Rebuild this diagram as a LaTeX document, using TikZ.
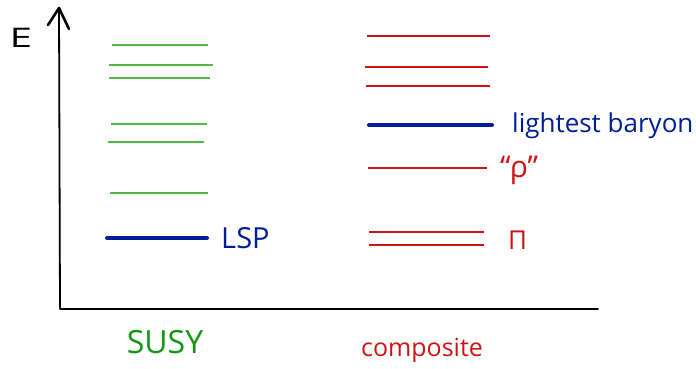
\documentclass[tikz,border=0pt]{standalone}
\usepackage{graphicx}
\usepackage{fontspec}
\setmainfont{Open Sans}
\definecolor{lvlgreen}{RGB}{80,185,70}
\definecolor{txtgreen}{RGB}{20,150,20}
\definecolor{lvlred}{RGB}{205,20,20}
\definecolor{lvlblue}{RGB}{0,30,150}
\newcommand{\fs}[1]{\fontsize{#1}{#1}\selectfont}
\begin{document}
\begin{tikzpicture}[x=1pt,y=-1pt,
  axis/.style={black,line width=1.8pt,line cap=round,line join=round},
  barb/.style={black,line width=2.6pt,line cap=round,line join=round},
  susylvl/.style={lvlgreen,line width=2pt},
  complvl/.style={lvlred,line width=2pt},
  lightest/.style={lvlblue,line width=4pt,line cap=round},
  lbl/.style={inner sep=0pt}]
\useasboundingbox (0,0) rectangle (696,369);
% axes
\coordinate (orig) at (60,309);
\coordinate (top) at (59,8);
\coordinate (xend) at (598,309);
\draw[axis] (top) -- (orig) -- (xend);
\draw[barb] (48,25) -- (top) -- (69,29);
\node[lbl,black,font=\fs{27}] (E) at (21,38) {\scalebox{1.5}[1]{E}};
% SUSY spectrum
\draw[susylvl] (112,45) -- (208,45);
\draw[susylvl] (109,65) -- (213,65);
\draw[susylvl] (109,78) -- (210,78);
\draw[susylvl] (111,124) -- (207,124);
\draw[susylvl] (108,142) -- (204,142);
\draw[susylvl] (110,193) -- (208,193);
\draw[lightest] (107,238) -- (207,238);
\node[lbl,lvlblue,anchor=west,font=\fs{29}] (lsp) at (221,238) {LSP};
\node[lbl,txtgreen,font=\fs{32}] (susy) at (165,342) {SUSY};
% composite spectrum
\draw[complvl] (367,36) -- (490,36);
\draw[complvl] (365,67) -- (488,67);
\draw[complvl] (366,86) -- (490,86);
\draw[lightest] (369,125) -- (492,125);
\draw[complvl] (368,168) -- (487,168);
\draw[complvl] (369,232) -- (484,232);
\draw[complvl] (369,245) -- (484,245);
\node[lbl,lvlblue,anchor=west,font=\fs{26}] (baryon) at (512,126) {lightest baryon};
\node[lbl,lvlred,anchor=west,font=\fs{30}] (rho) at (500,170) {``ρ''};
\node[lbl,lvlred,anchor=west,font=\fs{26}] (pion) at (508,240) {Π};
\node[lbl,lvlred,font=\fs{25}] (comp) at (422,350) {composite};
\end{tikzpicture}
\end{document}
